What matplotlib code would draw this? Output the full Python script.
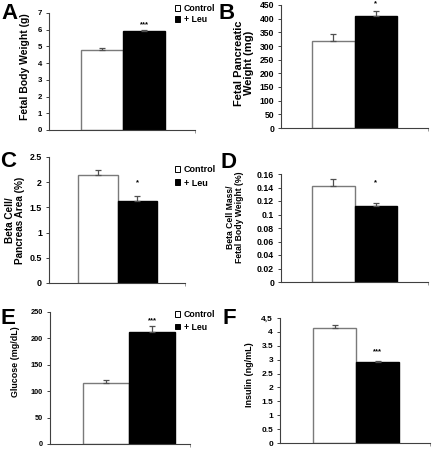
import matplotlib
matplotlib.use("Agg")
import matplotlib.pyplot as plt
from matplotlib.patches import Patch

plt.rcParams['font.family'] = ['Liberation Sans', 'DejaVu Sans']
plt.rcParams['font.weight'] = 'bold'

# ---------------- data ----------------
groups = ["Control", "+ Leu"]

body_weight = [4.8, 5.9]
body_weight_err = [0.1, 0.07]

pancreas_weight = [318, 410]
pancreas_weight_err = [25, 18]

beta_area = [2.15, 1.62]
beta_area_err = [0.1, 0.1]

beta_mass = [0.142, 0.113]
beta_mass_err = [0.01, 0.004]

glucose = [115, 213]
glucose_err = [7, 10]

insulin = [4.13, 2.93]
insulin_err = [0.12, 0.03]

ticks_A = [0, 1, 2, 3, 4, 5, 6, 7]
ticklabels_A = ["0", "1", "2", "3", "4", "5", "6", "7"]
ticks_B = [0, 50, 100, 150, 200, 250, 300, 350, 400, 450]
ticklabels_B = ["0", "50", "100", "150", "200", "250", "300", "350", "400", "450"]
ticks_C = [0, 0.5, 1, 1.5, 2, 2.5]
ticklabels_C = ["0", "0.5", "1", "1.5", "2", "2.5"]
ticks_D = [0, 0.02, 0.04, 0.06, 0.08, 0.1, 0.12, 0.14, 0.16]
ticklabels_D = ["0", "0.02", "0.04", "0.06", "0.08", "0.1", "0.12", "0.14", "0.16"]
ticks_E = [0, 50, 100, 150, 200, 250]
ticklabels_E = ["0", "50", "100", "150", "200", "250"]
ticks_F = [0, 0.5, 1, 1.5, 2, 2.5, 3, 3.5, 4, 4.5]
ticklabels_F = ["0", "0.5", "1", "1.5", "2", "2.5", "3", "3.5", "4", "4,5"]

sig_A, sig_B, sig_C, sig_D, sig_E, sig_F = "***", "*", "*", "*", "***", "***"

# ---------------- layout ----------------
W, H = 433, 449
fig = plt.figure(figsize=(W / 100, H / 100), dpi=100)

EDGE = '#404040'


def panel(letter, letter_xy, left, right, y0, ytop, bar_left, bar_w,
          vals, errs, ticks, ticklabels, tick_fs, ylabel, ylabel_xy, ylabel_fs,
          ylabel_ls, sig, sig_y, legend_xy=None, legend_fs=6.3, legend_sp=0.3):
    ax = fig.add_axes([left / W, 1 - y0 / H, (right - left) / W, (y0 - ytop) / H])
    x0 = bar_left + bar_w / 2
    xmin = (left - x0) / bar_w
    xmax = (right - x0) / bar_w
    ax.bar([0, 1], vals, width=1.0, color=['white', 'black'],
           edgecolor=['#7a7a7a', 'black'], linewidth=1.0, zorder=2)
    ax.errorbar([0, 1], vals, yerr=[[0, 0], errs], fmt='none',
                ecolor='#505050', elinewidth=0.9, capsize=2, capthick=0.9, zorder=3)
    ax.set_xlim(xmin, xmax)
    ax.set_ylim(ticks[0], ticks[-1])
    ax.set_yticks(ticks)
    ax.set_yticklabels(ticklabels, fontsize=tick_fs, fontweight='bold')
    ax.set_xticks([xmax])
    ax.set_xticklabels([])
    ax.tick_params(axis='y', direction='out', length=2.5, width=0.7, color=EDGE, pad=2.5)
    ax.tick_params(axis='x', direction='out', length=2.5, width=0.7, color='#999999')
    for s in ['top', 'right']:
        ax.spines[s].set_visible(False)
    for s in ['left', 'bottom']:
        ax.spines[s].set_color(EDGE)
        ax.spines[s].set_linewidth(0.8)
    ax.text(1, sig_y, sig, ha='center', va='center', fontsize=5.5,
            fontweight='bold', clip_on=False)
    fig.text(ylabel_xy[0] / W, 1 - ylabel_xy[1] / H, ylabel, rotation=90,
             ha='center', va='center', multialignment='center',
             fontsize=ylabel_fs, fontweight='bold', linespacing=ylabel_ls)
    fig.text(letter_xy[0] / W, 1 - letter_xy[1] / H, letter, ha='left', va='top',
             fontsize=16, fontweight='bold')
    if legend_xy is not None:
        handles = [Patch(facecolor='white', edgecolor='black', linewidth=0.7),
                   Patch(facecolor='black', edgecolor='black', linewidth=0.7)]
        fig.legend(handles, groups, loc='upper left',
                   bbox_to_anchor=(legend_xy[0] / W, 1 - legend_xy[1] / H),
                   frameon=False, handlelength=0.6, handleheight=0.6,
                   handletextpad=0.4, labelspacing=legend_sp, borderpad=0,
                   borderaxespad=0, prop={'weight': 'bold', 'size': legend_fs})
    return ax


panel("A", (1, 3), 49, 195, 130, 13, 81, 42,
      body_weight, body_weight_err, ticks_A, ticklabels_A, 5.6,
      "Fetal Body Weight (g)", (25, 67), 7.5, 1.0, sig_A, 6.28,
      legend_xy=(175, 4), legend_fs=6.3, legend_sp=0.25)

panel("B", (219, 3), 281, 428, 128, 5, 312, 42.5,
      pancreas_weight, pancreas_weight_err, ticks_B, ticklabels_B, 6.2,
      "Fetal Pancreatic\nWeight (mg)", (244, 63), 8.0, 0.9, sig_B, 453)

panel("C", (0, 151), 49, 185, 283, 157, 78, 39.5,
      beta_area, beta_area_err, ticks_C, ticklabels_C, 6.4,
      "Beta Cell/\nPancreas Area (%)", (15, 220), 7.2, 1.0, sig_C, 1.98,
      legend_xy=(175, 165), legend_fs=6.5, legend_sp=0.5)

panel("D", (220, 152), 281, 428, 282, 174, 312, 42.5,
      beta_mass, beta_mass_err, ticks_D, ticklabels_D, 6.3,
      "Beta Cell Mass/\nFetal Body Weight (%)", (235, 217), 6.2, 1.05, sig_D, 0.147)

panel("E", (1, 308), 50, 190, 444, 312, 83, 46,
      glucose, glucose_err, ticks_E, ticklabels_E, 5.3,
      "Glucose (mg/dL)", (16, 362), 6.4, 1.0, sig_E, 233,
      legend_xy=(175, 310), legend_fs=6.3, legend_sp=0.4)

panel("F", (223, 308), 280, 430, 443, 318, 313, 43,
      insulin, insulin_err, ticks_F, ticklabels_F, 6.0,
      "Insulin (ng/mL)", (250, 375), 6.5, 1.0, sig_F, 3.28)

fig.savefig("out.png", dpi=100)
